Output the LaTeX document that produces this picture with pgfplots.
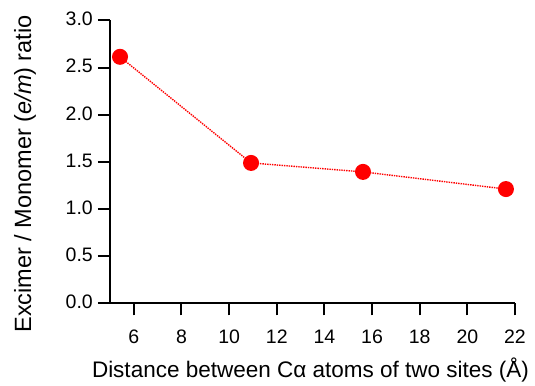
\documentclass[border=0pt]{standalone}
\usepackage{fontspec}
\setmainfont{Liberation Sans}
\usepackage{pgfplots}
\pgfplotsset{compat=1.18}
\begin{document}
\begin{tikzpicture}
\begin{axis}[
  scale only axis,
  width=405pt, height=283pt,
  xmin=5, xmax=22, ymin=0, ymax=3,
  axis x line*=bottom, axis y line*=left,
  axis line style={line width=2pt},
  xtick={6,8,...,22},
  ytick={0,0.5,...,3},
  tick align=outside,
  major tick length=12pt,
  tick style={line width=2pt, black},
  /pgf/number format/assume math mode=true,
  yticklabel style={/pgf/number format/fixed, /pgf/number format/fixed zerofill, /pgf/number format/precision=1},
  ticklabel style={font=\fontsize{19.5}{21}\selectfont},
  xticklabel style={anchor=north, inner sep=0pt, yshift=-14pt},
  yticklabel style={anchor=east, inner sep=0pt, xshift=-5pt, yshift=1.5pt},
  xlabel={\fontsize{22.5}{24}\selectfont Distance between Cα atoms of two sites (Å)},
  ylabel={\fontsize{23.5}{25}\selectfont Excimer / Monomer (\textit{e/m}) ratio},
  xlabel style={at={(axis description cs:0.495,0)}, anchor=base, yshift=-74.5pt},
  ylabel style={at={(axis description cs:0,0.4576)}, anchor=center, yshift=85pt},
  clip=false,
]
\addplot[red, densely dotted, line width=1.4pt, mark=*, mark size=7.3pt, mark options={solid, fill=red, draw=red}]
coordinates {(5.42,2.615) (10.92,1.49) (15.62,1.395) (21.62,1.213)};
\path (axis description cs:-0.2716,-0.281) rectangle (axis description cs:1.0494,1.0724);
\end{axis}
\end{tikzpicture}
\end{document}
